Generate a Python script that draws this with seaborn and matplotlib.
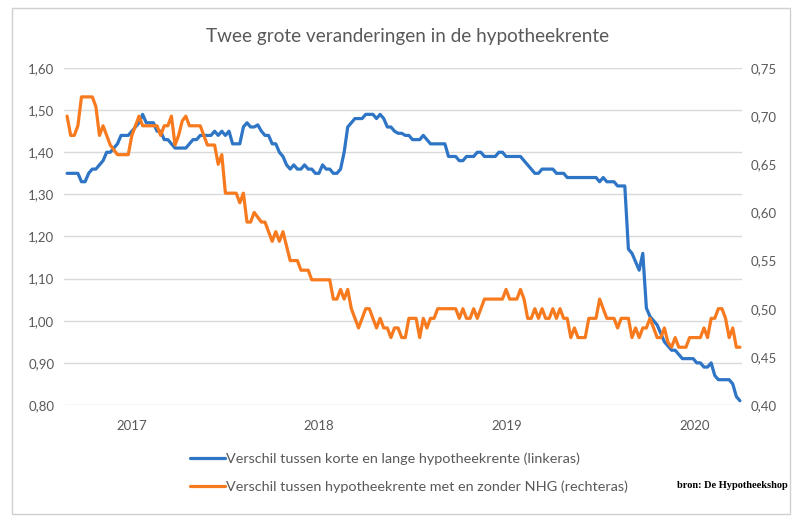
import numpy as np
import pandas as pd
import matplotlib
matplotlib.use('Agg')
import matplotlib.pyplot as plt
import seaborn as sns
from matplotlib.ticker import FuncFormatter
from matplotlib.patches import Rectangle

# weekly values, end of aug 2016 up to end of march 2020
start_date = '2016-08-29'
end_date = '2020-03-30'

# verschil korte en lange hypotheekrente (linkeras)
kort_lang = [1.35, 1.35, 1.35, 1.35, 1.33, 1.33, 1.35, 1.36, 1.36, 1.37,
             1.38, 1.40, 1.40, 1.41, 1.42, 1.44, 1.44, 1.44, 1.45, 1.46,
             1.47, 1.49, 1.47, 1.47, 1.47, 1.45, 1.45, 1.43, 1.43, 1.42,
             1.41, 1.41, 1.41, 1.41, 1.42, 1.43, 1.43, 1.44, 1.44, 1.44,
             1.44, 1.45, 1.44, 1.45, 1.44, 1.45, 1.42, 1.42, 1.42, 1.46,
             1.47, 1.46, 1.46, 1.465, 1.45, 1.44, 1.44, 1.42, 1.42, 1.40,
             1.39, 1.37, 1.36, 1.37, 1.36, 1.36, 1.37, 1.36, 1.36, 1.35,
             1.35, 1.37, 1.36, 1.36, 1.35, 1.35, 1.36, 1.40, 1.46, 1.47,
             1.48, 1.48, 1.48, 1.49, 1.49, 1.49, 1.48, 1.49, 1.48, 1.46,
             1.46, 1.45, 1.445, 1.445, 1.44, 1.44, 1.43, 1.43, 1.43, 1.44,
             1.43, 1.42, 1.42, 1.42, 1.42, 1.42, 1.39, 1.39, 1.39, 1.38,
             1.38, 1.39, 1.39, 1.39, 1.40, 1.40, 1.39, 1.39, 1.39, 1.39,
             1.40, 1.40, 1.39, 1.39, 1.39, 1.39, 1.39, 1.38, 1.37, 1.36,
             1.35, 1.35, 1.36, 1.36, 1.36, 1.36, 1.35, 1.35, 1.35, 1.34,
             1.34, 1.34, 1.34, 1.34, 1.34, 1.34, 1.34, 1.34, 1.33, 1.34,
             1.33, 1.33, 1.33, 1.32, 1.32, 1.32, 1.17, 1.16, 1.14, 1.12,
             1.16, 1.03, 1.01, 1.00, 0.99, 0.97, 0.95, 0.94, 0.93, 0.93,
             0.92, 0.91, 0.91, 0.91, 0.91, 0.90, 0.90, 0.89, 0.89, 0.90,
             0.87, 0.86, 0.86, 0.86, 0.86, 0.85, 0.82, 0.81]

# verschil met en zonder NHG (rechteras)
nhg = [0.70, 0.68, 0.68, 0.69, 0.72, 0.72, 0.72, 0.72, 0.71, 0.68,
       0.69, 0.68, 0.67, 0.665, 0.66, 0.66, 0.66, 0.66, 0.68, 0.69,
       0.70, 0.69, 0.69, 0.69, 0.69, 0.69, 0.68, 0.69, 0.69, 0.70,
       0.67, 0.68, 0.695, 0.70, 0.69, 0.69, 0.69, 0.69, 0.68, 0.67,
       0.67, 0.67, 0.65, 0.66, 0.62, 0.62, 0.62, 0.62, 0.61, 0.62,
       0.59, 0.59, 0.60, 0.595, 0.59, 0.59, 0.58, 0.57, 0.58, 0.57,
       0.58, 0.565, 0.55, 0.55, 0.55, 0.54, 0.54, 0.54, 0.53, 0.53,
       0.53, 0.53, 0.53, 0.53, 0.51, 0.51, 0.52, 0.51, 0.52, 0.50,
       0.49, 0.48, 0.49, 0.50, 0.50, 0.49, 0.48, 0.49, 0.48, 0.48,
       0.47, 0.48, 0.48, 0.47, 0.47, 0.49, 0.49, 0.49, 0.47, 0.49,
       0.48, 0.49, 0.49, 0.50, 0.50, 0.50, 0.50, 0.50, 0.50, 0.49,
       0.50, 0.49, 0.49, 0.50, 0.49, 0.50, 0.51, 0.51, 0.51, 0.51,
       0.51, 0.51, 0.52, 0.51, 0.51, 0.51, 0.52, 0.51, 0.49, 0.49,
       0.50, 0.49, 0.50, 0.49, 0.49, 0.50, 0.49, 0.50, 0.49, 0.49,
       0.47, 0.48, 0.47, 0.47, 0.47, 0.49, 0.49, 0.49, 0.51, 0.50,
       0.49, 0.49, 0.49, 0.48, 0.49, 0.49, 0.49, 0.47, 0.48, 0.47,
       0.48, 0.48, 0.49, 0.48, 0.47, 0.47, 0.48, 0.465, 0.46, 0.47,
       0.46, 0.46, 0.46, 0.47, 0.47, 0.47, 0.47, 0.48, 0.47, 0.49,
       0.49, 0.50, 0.50, 0.49, 0.47, 0.48, 0.46, 0.46]

year_labels = ['2017', '2018', '2019', '2020']
label_kort = 'Verschil tussen korte en lange hypotheekrente (linkeras)'
label_nhg = 'Verschil tussen hypotheekrente met en zonder NHG (rechteras)'
title = 'Twee grote veranderingen in de hypotheekrente'
bron = 'bron: De Hypotheekshop'

dates = pd.date_range(start_date, end_date, freq='7D')
df = pd.DataFrame({'datum': dates, 'kort_lang': kort_lang, 'nhg': nhg})

sns.set_style('white')
plt.rcParams['font.family'] = ['Lato', 'DejaVu Sans']

blue = '#2E75C6'
orange = '#F77A1E'
grey_txt = '#595959'

fig = plt.figure(figsize=(8, 5.2), dpi=100)
ax = fig.add_axes([0.08, 0.2212, 0.8475, 0.648])
ax2 = ax.twinx()

sns.lineplot(data=df, x='datum', y='kort_lang', ax=ax, color=blue, lw=2.3, label=label_kort)
sns.lineplot(data=df, x='datum', y='nhg', ax=ax2, color=orange, lw=2.3, label=label_nhg)

ax.set_xlim(dates[0] - pd.Timedelta(days=6), dates[-1] + pd.Timedelta(days=4))
ax.set_ylim(0.80, 1.60)
ax.set_yticks(np.arange(0.80, 1.601, 0.10))
ax2.set_ylim(0.40, 0.75)
ax2.set_yticks(np.arange(0.40, 0.751, 0.05))

comma = FuncFormatter(lambda v, p: f'{v:.2f}'.replace('.', ','))
ax.yaxis.set_major_formatter(comma)
ax2.yaxis.set_major_formatter(comma)

ax.set_xticks(pd.to_datetime([y + '-01-01' for y in year_labels]))
ax.set_xticklabels(year_labels)

ax.yaxis.grid(True, color='#d9d9d9', lw=1)
ax.xaxis.grid(False)
for a in (ax, ax2):
    for s in a.spines.values():
        s.set_visible(False)
    a.set_xlabel('')
    a.set_ylabel('')
ax.tick_params(axis='x', length=0, pad=11, labelsize=9.5, labelcolor=grey_txt)
ax.tick_params(axis='y', length=0, pad=7, labelsize=9.5, labelcolor=grey_txt)
ax2.tick_params(axis='y', length=0, pad=6, labelsize=9.5, labelcolor=grey_txt)

h1, l1 = ax.get_legend_handles_labels()
h2, l2 = ax2.get_legend_handles_labels()
ax.get_legend().remove()
ax2.get_legend().remove()
fig.legend(h1 + h2, l1 + l2, loc='upper left', bbox_to_anchor=(0.2375, 0.13),
           frameon=False, fontsize=10.4, handlelength=2.4, handletextpad=0.1,
           labelspacing=1.05, borderpad=0, borderaxespad=0, labelcolor=grey_txt)

fig.text(0.509, 0.93, title, ha='center', va='center', fontsize=13.6, color=grey_txt)
fig.text(0.985, 0.067, bron, ha='right', va='center', fontsize=7.5, fontweight='bold',
         family='Liberation Serif', color='black')

fig.patches.append(Rectangle((0.015, 0.0115), 0.9725, 0.973, transform=fig.transFigure,
                             fill=False, edgecolor='#d0d0d0', lw=1))

fig.savefig('out.png', dpi=100)
